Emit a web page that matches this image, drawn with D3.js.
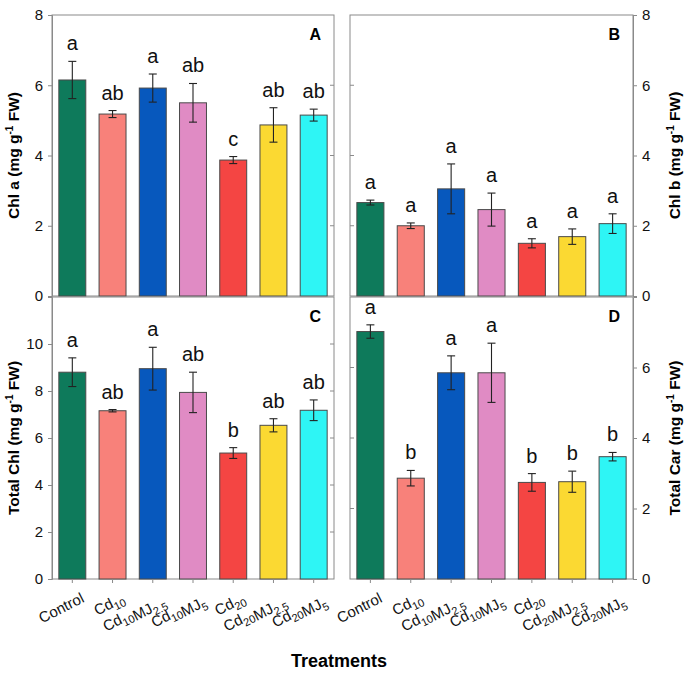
<!DOCTYPE html>
<html>
<head>
<meta charset="utf-8">
<script src="https://cdn.jsdelivr.net/npm/d3@7"></script>
<style>
  body { margin: 0; background: #fff; }
  svg { font-family: "Liberation Sans", Arial, sans-serif; }
</style>
</head>
<body>
<svg width="685" height="677"></svg>
<script>
const treatments = ["Control", "Cd10", "Cd10MJ2.5", "Cd10MJ5", "Cd20", "Cd20MJ2.5", "Cd20MJ5"];
// label pieces: [normal, subscript]
const tickLabels = [
  [["Control", ""]],
  [["Cd", "10"]],
  [["Cd", "10"], ["MJ", "2.5"]],
  [["Cd", "10"], ["MJ", "5"]],
  [["Cd", "20"]],
  [["Cd", "20"], ["MJ", "2.5"]],
  [["Cd", "20"], ["MJ", "5"]]
];
const colors = ["#0e7a5b", "#f8817a", "#0758bd", "#e08bc4", "#f44543", "#fbd932", "#2ef5f5"];

const chlA = [6.15, 5.18, 5.92, 5.50, 3.87, 4.87, 5.15];
const chlAErr = [0.53, 0.10, 0.40, 0.55, 0.10, 0.49, 0.17];
const chlALetters = ["a", "ab", "a", "ab", "c", "ab", "ab"];

const chlB = [2.66, 2.00, 3.05, 2.46, 1.50, 1.69, 2.06];
const chlBErr = [0.07, 0.08, 0.71, 0.47, 0.13, 0.22, 0.28];
const chlBLetters = ["a", "a", "a", "a", "a", "a", "a"];

const totalChl = [8.80, 7.16, 8.95, 7.94, 5.36, 6.54, 7.18];
const totalChlErr = [0.61, 0.05, 0.91, 0.86, 0.23, 0.28, 0.44];
const totalChlLetters = ["a", "ab", "a", "ab", "b", "ab", "ab"];

const totalCar = [7.02, 2.86, 5.85, 5.85, 2.74, 2.76, 3.47];
const totalCarErr = [0.19, 0.22, 0.48, 0.84, 0.25, 0.30, 0.12];
const totalCarLetters = ["a", "b", "a", "a", "b", "b", "b"];

const svg = d3.select("svg");

const panels = [
  { tag: "A", vals: chlA, err: chlAErr, letters: chlALetters, max: 8, ticks: [0, 2, 4, 6, 8], side: "left",
    title: "Chl a", x0: 52, x1: 334, y0: 15, y1: 296, xlabels: false },
  { tag: "B", vals: chlB, err: chlBErr, letters: chlBLetters, max: 8, ticks: [0, 2, 4, 6, 8], side: "right",
    title: "Chl b", x0: 350, x1: 633, y0: 15, y1: 296, xlabels: false },
  { tag: "C", vals: totalChl, err: totalChlErr, letters: totalChlLetters, max: 12, ticks: [0, 2, 4, 6, 8, 10], side: "left",
    title: "Total Chl", x0: 52, x1: 334, y0: 297, y1: 579, xlabels: true },
  { tag: "D", vals: totalCar, err: totalCarErr, letters: totalCarLetters, max: 8, ticks: [0, 2, 4, 6], side: "right",
    title: "Total Car", x0: 350, x1: 633, y0: 297, y1: 579, xlabels: true }
];

panels.forEach(p => {
  const x = d3.scaleBand().domain(treatments).range([p.x0, p.x1]).paddingInner(0.33).paddingOuter(0.17);
  const y = d3.scaleLinear().domain([0, p.max]).range([p.y1, p.y0]);
  const g = svg.append("g");
  const data = treatments.map((t, i) => ({ t, v: p.vals[i], e: p.err[i], l: p.letters[i], c: colors[i], lab: tickLabels[i] }));

  // frame
  g.append("rect").attr("x", p.x0).attr("y", p.y0).attr("width", p.x1 - p.x0).attr("height", p.y1 - p.y0)
    .attr("fill", "none").attr("stroke", "#8a8a8a").attr("stroke-width", 1);

  // main axis
  const axis = p.side === "left" ? d3.axisLeft(y) : d3.axisRight(y);
  const ax = g.append("g")
    .attr("transform", `translate(${p.side === "left" ? p.x0 : p.x1},0)`)
    .call(axis.tickValues(p.ticks).tickSize(4).tickPadding(5).tickFormat(d3.format("d")));
  ax.select(".domain").attr("stroke", "#8a8a8a");
  ax.selectAll(".tick line").attr("stroke", "#8a8a8a");
  ax.selectAll(".tick text").attr("font-size", 15).attr("fill", "#111").attr("font-family", "Liberation Sans, Arial");

  // mirror ticks on the opposite border
  const mx = p.side === "left" ? p.x1 : p.x0;
  const md = p.side === "left" ? -4 : 4;
  g.selectAll(".mt").data(p.ticks.filter(d => d > 0 && d < p.max)).enter().append("line")
    .attr("x1", mx).attr("x2", mx + md).attr("y1", d => y(d)).attr("y2", d => y(d))
    .attr("stroke", "#8a8a8a");

  // bars
  g.selectAll(".bar").data(data).enter().append("rect")
    .attr("x", d => x(d.t)).attr("width", x.bandwidth())
    .attr("y", d => y(d.v)).attr("height", d => y(0) - y(d.v))
    .attr("fill", d => d.c).attr("stroke", "#4a4a4a").attr("stroke-width", 1);

  // error bars
  const cx = d => x(d.t) + x.bandwidth() / 2;
  const eb = g.selectAll(".eb").data(data).enter().append("g").attr("stroke", "#222").attr("stroke-width", 1.1);
  eb.append("line").attr("x1", cx).attr("x2", cx).attr("y1", d => y(d.v + d.e)).attr("y2", d => y(d.v - d.e));
  eb.append("line").attr("x1", d => cx(d) - 4).attr("x2", d => cx(d) + 4).attr("y1", d => y(d.v + d.e)).attr("y2", d => y(d.v + d.e));
  eb.append("line").attr("x1", d => cx(d) - 4).attr("x2", d => cx(d) + 4).attr("y1", d => y(d.v - d.e)).attr("y2", d => y(d.v - d.e));

  // letters
  g.selectAll(".let").data(data).enter().append("text")
    .attr("x", cx).attr("y", d => y(d.v + d.e) - 11)
    .attr("text-anchor", "middle").attr("font-size", 20).attr("fill", "#111")
    .text(d => d.l);

  // panel tag
  g.append("text").attr("x", p.x1 - 13).attr("y", p.y0 + 25).attr("text-anchor", "end")
    .attr("font-size", 16).attr("font-weight", "bold").text(p.tag);

  // y title
  const tx = p.side === "left" ? 14 : 675;
  const ty = (p.y0 + p.y1) / 2;
  const tt = g.append("text").attr("transform", `translate(${tx},${ty}) rotate(-90)`)
    .attr("text-anchor", "middle").attr("dy", "0.35em").attr("font-size", 15.5).attr("font-weight", "bold");
  tt.append("tspan").text(p.title + " (mg g");
  tt.append("tspan").attr("font-size", 10).attr("dy", -6).text("-1");
  tt.append("tspan").attr("dy", 6).text(" FW)");

  // x ticks & labels
  if (p.xlabels) {
    g.selectAll(".xt").data(data).enter().append("line")
      .attr("x1", cx).attr("x2", cx).attr("y1", p.y1).attr("y2", p.y1 + 4).attr("stroke", "#8a8a8a");
    const lab = g.selectAll(".xl").data(data).enter().append("text")
      .attr("transform", d => `translate(${cx(d) + 8},${p.y1 + 13}) rotate(-27)`)
      .attr("text-anchor", "end").attr("dy", "0.71em").attr("font-size", 15).attr("fill", "#111");
    lab.each(function (d) {
      const t = d3.select(this);
      d.lab.forEach(([main, sub]) => {
        t.append("tspan").text(main);
        if (sub) {
          t.append("tspan").attr("font-size", 11).attr("dy", 4).text(sub);
          t.append("tspan").attr("dy", -4).text("");
        }
      });
    });
  }
});

svg.append("text").attr("x", 339).attr("y", 667).attr("text-anchor", "middle")
  .attr("font-size", 18).attr("font-weight", "bold").text("Treatments");
</script>
</body>
</html>
